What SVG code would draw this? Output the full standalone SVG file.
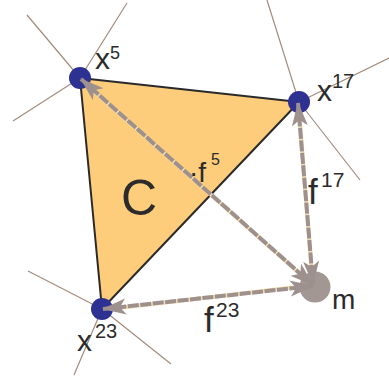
<svg xmlns="http://www.w3.org/2000/svg" width="389" height="382" viewBox="0 0 389 382">
<style>
.ray{stroke:#a28c7c;stroke-width:1.2;fill:none}
.vtx{fill:#2d3192}
.lbl{font-family:"Liberation Sans",Arial,sans-serif;fill:#2b2b2b}
.under{stroke:#f3dcae;stroke-width:4;fill:none}
.dash{stroke:#9d908d;stroke-width:4;fill:none;stroke-dasharray:11 1.5;marker-start:url(#ah);marker-end:url(#ah)}
</style>
<defs>
<marker id="ah" viewBox="0 0 24 18" refX="23" refY="9" markerWidth="24" markerHeight="18" markerUnits="userSpaceOnUse" orient="auto-start-reverse">
<path d="M24,9 L0,1 L6,9 L0,17 Z" fill="#9d908d"/>
</marker>
</defs>
<g id="rays">
<path class="ray" d="M80,78 L27,15 M80,78 L127,3 M80,78 L13,121"/>
<path class="ray" d="M299,102 L267,0 M299,102 L389,58 M299,102 L360,180"/>
<path class="ray" d="M102,309 L28,271 M102,309 L171,364 M102,309 L74,375"/>
</g>
<g id="C">
<polygon points="80,78 299,102 102,309" fill="#fecd7c" stroke="#2a2a2a" stroke-width="2" stroke-linejoin="round"/>
<text class="lbl" x="121" y="215" font-size="50">C</text>
</g>
<g id="m">
<circle cx="315" cy="287" r="15.5" fill="#a39793"/>
<text class="lbl" x="332" y="309" font-size="28">m</text>
</g>
<g id="x5">
<circle class="vtx" cx="80" cy="78" r="11"/>
<text class="lbl" x="95" y="69" font-size="30">x</text>
<text class="lbl" x="110" y="59" font-size="18">5</text>
</g>
<g id="x17">
<circle class="vtx" cx="299" cy="102" r="11"/>
<text class="lbl" x="317" y="101" font-size="30">x</text>
<text class="lbl" x="332" y="88" font-size="20">17</text>
</g>
<g id="x23">
<circle class="vtx" cx="102" cy="309" r="11"/>
<text class="lbl" x="77" y="351" font-size="30">x</text>
<text class="lbl" x="95" y="338" font-size="20">23</text>
</g>
<g id="connectors">
<line class="under" x1="86" y1="84" x2="307" y2="280"/>
<line class="under" x1="299" y1="110" x2="312" y2="276"/>
<line class="under" x1="110" y1="309" x2="305" y2="286"/>
<line class="dash" x1="81" y1="79" x2="313" y2="285"/>
<line class="dash" x1="298" y1="103" x2="313" y2="284"/>
<line class="dash" x1="103" y1="309" x2="313" y2="286"/>
</g>
<g id="labels">
<text class="lbl" x="189" y="182" font-size="28">·f</text>
<text class="lbl" x="211" y="165" font-size="16">5</text>
<text class="lbl" x="308" y="204" font-size="35">f</text>
<text class="lbl" x="321" y="187" font-size="21">17</text>
<text class="lbl" x="204" y="332" font-size="35">f</text>
<text class="lbl" x="216" y="317" font-size="21">23</text>
</g>
</svg>
